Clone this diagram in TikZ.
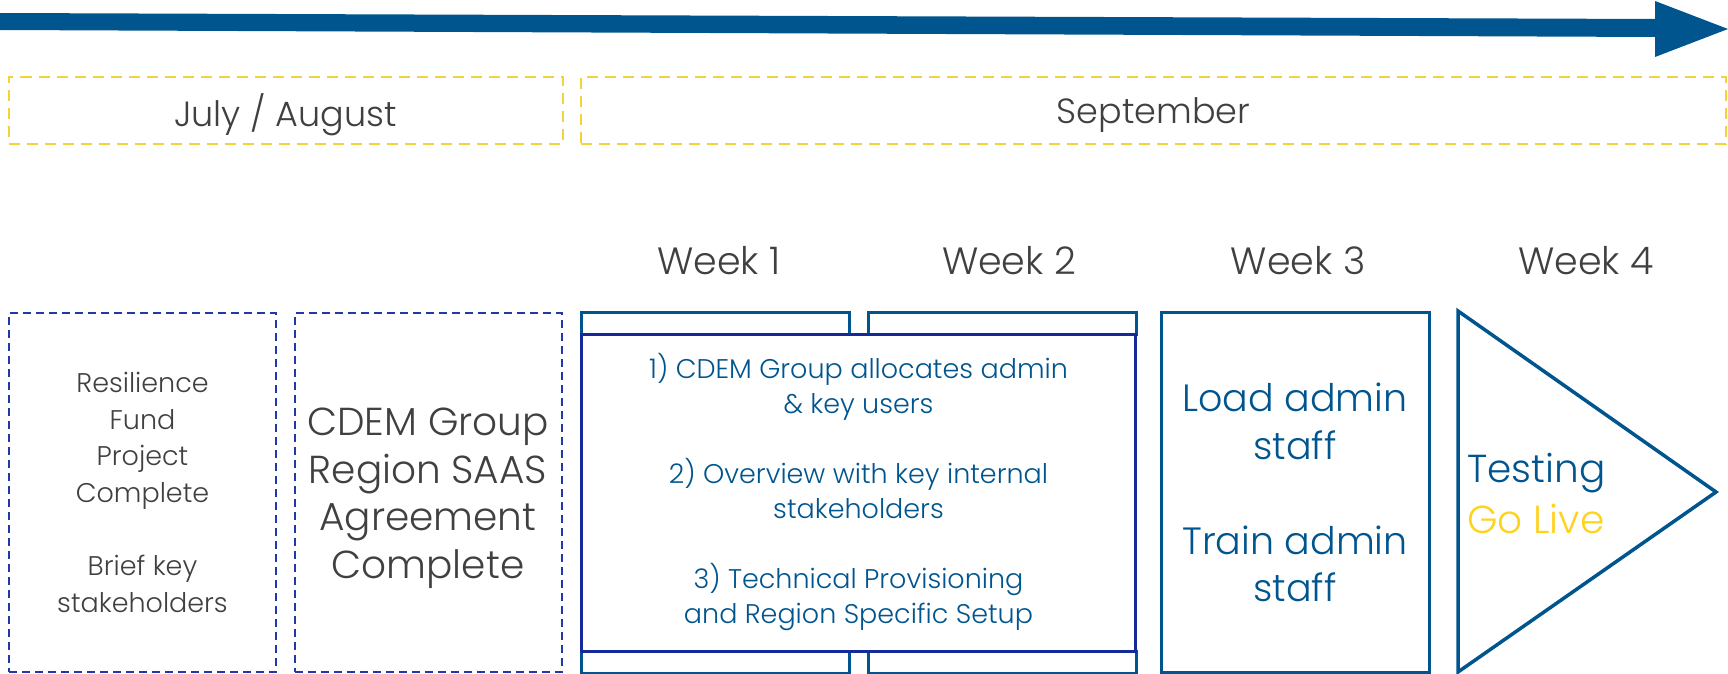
\documentclass[tikz,border=0pt]{standalone}
\usepackage{fontspec}
\IfFontExistsTF{Poppins Light}{\setmainfont{Poppins Light}}{\setmainfont{Poppins}}
\usetikzlibrary{positioning}

\definecolor{tlblue}{HTML}{00558F}
\definecolor{framenavy}{HTML}{14299A}
\definecolor{dashnavy}{HTML}{2038A8}
\definecolor{monthgold}{HTML}{F2D33C}
\definecolor{livegold}{HTML}{FFD21C}
\definecolor{txtgray}{HTML}{404040}

\newcommand{\fsz}[2]{\fontsize{#1}{#2}\selectfont}

\tikzset{
  month/.style={draw=monthgold, dash pattern=on 11pt off 7pt, line width=2pt,
    minimum height=67pt, text depth=0pt, text=txtgray, font=\fsz{35}{40}},
  week/.style={text=txtgray, font=\fsz{38}{44}},
  prebox/.style={draw=dashnavy, dash pattern=on 8pt off 5pt, line width=2pt,
    minimum width=267pt, minimum height=359pt, text=txtgray, align=center},
  tab/.style={draw=tlblue, line width=3pt},
  stagebox/.style={draw=tlblue, line width=3pt, text=tlblue, align=center},
}

\begin{document}
\begin{tikzpicture}[x=1pt, y=-1pt]
  \useasboundingbox (0,0) rectangle (1728,674);
  \def\tabtop{312}
  \def\tabbot{673}

  % timeline arrow
  \fill[tlblue] (0,13) -- (1655,19) -- (1655,1) -- (1728,29) -- (1655,57)
    -- (1655,37) -- (0,30) -- cycle;

  % months
  \node[month, minimum width=554pt] (jul) at (285.5,110.5) {July / August};
  \node[month, minimum width=1145pt] (sep) at (1153.5,110.5) {September};

  % weeks
  \node[week] (wk1) at (719,261) {Week 1};
  \node[week] (wk2) at (1009,261) {Week 2};
  \node[week] (wk3) at (1298,261) {Week 3};
  \node[week] (wk4) at (1586,261) {Week 4};

  % before september
  \node[prebox, font=\fsz{27}{36.7}] (fund) at (142.5,492.5)
    {Resilience\\Fund\\Project\\Complete\\[36.7pt]Brief key\\stakeholders};
  \node[prebox, font=\fsz{39}{47.5}] (saas) at (428,492.5)
    {\\[-8.8pt]CDEM Group\\Region SAAS\\Agreement\\Complete};

  % weeks 1 and 2 share one box
  \foreach \xa/\xb in {581/849, 868/1136} {
    \draw[tab] (\xa,\tabtop) rectangle (\xb,334);
    \draw[tab] (\xa,651) rectangle (\xb,\tabbot);
  }
  \node[stagebox, draw=framenavy, minimum width=554pt, minimum height=317pt,
    font=\fsz{27}{35}] (tasks) at (858.5,492.5)
    {1) CDEM Group allocates admin\\\& key users\\[35pt]
     2) Overview with key internal\\stakeholders\\[35pt]
     3) Technical Provisioning\\and Region Specific Setup};

  % week 3
  \node[stagebox, minimum width=268pt, minimum height=360pt,
    font=\fsz{38}{47.5}] (staff) at (1295,492.5)
    {Load admin\\staff\\[47.5pt]Train admin\\staff};

  % week 4
  \draw[tlblue, line width=3.5pt] (1458,311) -- (1458,672) -- (1716,492) -- cycle;
  \node[anchor=west, align=left, inner sep=0pt, font=\fsz{39}{51}] (golive)
    at (1467,493) {\textcolor{tlblue}{Testing}\\\textcolor{livegold}{Go Live}};
\end{tikzpicture}
\end{document}
